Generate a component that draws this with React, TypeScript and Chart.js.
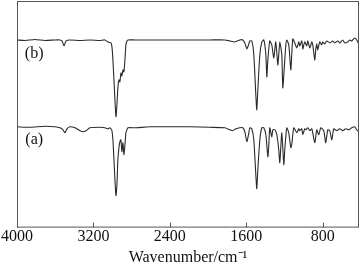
import React, { useEffect, useRef } from "react";
import { Chart, registerables } from "chart.js";

Chart.register(...registerables);

// Wavenumber (cm^-1) and relative transmittance (arbitrary units) for spectrum (b)
const waveB = [4000, 3916, 3812, 3707, 3603, 3550, 3529, 3508, 3487, 3446, 3341, 3236, 3132, 3080, 3048, 3017, 3006, 2996, 2985, 2975, 2964, 2954, 2944, 2933, 2923, 2912, 2902, 2891, 2881, 2870, 2860, 2849, 2839, 2766, 2609, 2400, 2190, 1981, 1824, 1772, 1720, 1667, 1636, 1615, 1594, 1573, 1563, 1542, 1521, 1500, 1490, 1479, 1458, 1437, 1416, 1395, 1385, 1374, 1354, 1333, 1312, 1291, 1270, 1260, 1249, 1228, 1218, 1207, 1186, 1176, 1155, 1134, 1124, 1113, 1092, 1071, 1050, 1040, 1019, 1008, 988, 967, 956, 935, 914, 904, 883, 873, 862, 852, 831, 810, 800, 779, 757, 726, 695, 674, 642, 621, 590, 569, 538, 517, 496, 465, 444, 423];
const transB = [188, 187.5, 188.5, 187.5, 188, 188, 187, 182, 187, 188, 187.5, 188, 187.5, 188, 186, 185, 181, 168, 148, 128, 111, 123, 140, 148, 146, 155, 152, 158, 156, 168, 183, 187, 188, 188, 188, 188, 188, 188, 188, 187, 186, 188, 188, 185, 179, 184, 187, 187, 173, 133, 118, 138, 173, 186, 188, 173, 151, 168, 187, 183, 170, 186, 163, 173, 186, 173, 140, 153, 183, 188, 183, 158, 173, 189, 185, 180, 186, 182, 187, 179, 186, 182, 187, 180, 186, 183, 168, 178, 184, 178, 186, 183, 186, 184, 187, 185, 187, 185, 187, 185, 188, 185, 186, 188, 187, 190, 188, 184];

// Spectrum (a)
const waveA = [4000, 3864, 3707, 3603, 3550, 3519, 3498, 3477, 3446, 3393, 3341, 3310, 3278, 3236, 3132, 3080, 3048, 3027, 3017, 3006, 2996, 2985, 2975, 2964, 2954, 2944, 2933, 2923, 2912, 2902, 2891, 2881, 2870, 2860, 2849, 2839, 2766, 2609, 2400, 2190, 1981, 1824, 1772, 1741, 1709, 1667, 1636, 1615, 1594, 1573, 1563, 1542, 1521, 1500, 1490, 1479, 1458, 1437, 1416, 1395, 1374, 1364, 1354, 1333, 1322, 1301, 1280, 1260, 1249, 1228, 1207, 1197, 1176, 1155, 1134, 1124, 1103, 1071, 1050, 1040, 1019, 1008, 988, 977, 956, 935, 914, 883, 862, 841, 820, 789, 768, 747, 726, 705, 684, 653, 621, 590, 559, 527, 496, 465, 444, 423];
const transA = [101, 100.5, 101.5, 101, 100, 98, 95, 99, 101, 100, 97, 96, 97, 100, 100.5, 100, 99, 100, 99, 97, 88, 68, 48, 32, 43, 68, 80, 86, 88, 76, 85, 73, 83, 95, 98, 100, 100, 101, 101, 101, 100.5, 100, 98, 97, 99, 100, 100, 96, 86, 95, 100, 99, 88, 53, 39, 58, 88, 100, 100, 93, 71, 83, 100, 91, 98, 98, 93, 78, 65, 95, 63, 78, 100, 95, 80, 83, 100, 95, 99, 97, 99, 93, 99, 98, 100, 97, 99, 85, 98, 93, 100, 97, 85, 98, 97, 88, 99, 97, 99, 97, 99, 98, 100, 101, 98, 96];

const xTicks = [4000, 3200, 2400, 1600, 800];
const seriesLabels = ["(b)", "(a)"];
const labelAnchors = [
  { x: 3820, y: 174 },
  { x: 3820, y: 88 },
];

const framePlugin = {
  id: "frame",
  afterDatasetsDraw(chart: any) {
    const { ctx, chartArea } = chart;
    const xs = chart.scales.x;
    const ys = chart.scales.y;
    ctx.save();
    ctx.strokeStyle = "#555";
    ctx.lineWidth = 1;
    ctx.strokeRect(chartArea.left + 0.5, chartArea.top + 0.5, chartArea.right - chartArea.left - 1, chartArea.bottom - chartArea.top - 1);
    ctx.beginPath();
    for (const t of xTicks) {
      const px = Math.round(xs.getPixelForValue(t)) + 0.5;
      ctx.moveTo(px, chartArea.bottom);
      ctx.lineTo(px, chartArea.bottom - 5);
    }
    ctx.stroke();
    ctx.fillStyle = "#111";
    ctx.font = '16px "Liberation Serif"';
    ctx.textAlign = "center";
    ctx.textBaseline = "middle";
    seriesLabels.forEach((s, i) => {
      ctx.fillText(s, xs.getPixelForValue(labelAnchors[i].x), ys.getPixelForValue(labelAnchors[i].y));
    });
    ctx.restore();
  },
};

export default function App() {
  const ref = useRef<HTMLCanvasElement>(null);
  useEffect(() => {
    if (!ref.current) return;
    const chart = new Chart(ref.current, {
      type: "line",
      data: {
        datasets: [
          {
            label: "b",
            data: waveB.map((w, i) => ({ x: w, y: transB[i] })),
            borderColor: "#2a2a2a",
            borderWidth: 1.1,
            pointRadius: 0,
            tension: 0.2,
          },
          {
            label: "a",
            data: waveA.map((w, i) => ({ x: w, y: transA[i] })),
            borderColor: "#2a2a2a",
            borderWidth: 1.1,
            pointRadius: 0,
            tension: 0.2,
          },
        ],
      },
      options: {
        animation: false,
        responsive: false,
        layout: { padding: { left: 17, right: 1, top: 1, bottom: 0 } },
        plugins: { legend: { display: false }, tooltip: { enabled: false } },
        scales: {
          x: {
            type: "linear",
            reverse: true,
            min: 420,
            max: 4000,
            afterBuildTicks: (axis: any) => {
              axis.ticks = xTicks.map((v) => ({ value: v }));
            },
            grid: { display: false, drawTicks: false },
            border: { display: false },
            ticks: {
              padding: 0,
              color: "#111",
              maxRotation: 0,
              autoSkip: false,
              font: { family: "Liberation Serif", size: 16 },
              callback: (v: any) => String(v),
            },
            title: {
              display: true,
              text: "Wavenumber/cm\u207B\u00B9",
              color: "#111",
              padding: { top: 1, bottom: 0 },
              font: { family: "Liberation Serif", size: 16 },
            },
          },
          y: { display: false, min: 0, max: 227 },
        },
      },
      plugins: [framePlugin],
    });
    return () => chart.destroy();
  }, []);
  return (
    <div style={{ position: "fixed", left: 0, top: 0, width: 360, height: 267, background: "#fff" }}>
      <canvas ref={ref} width={360} height={267} />
    </div>
  );
}
